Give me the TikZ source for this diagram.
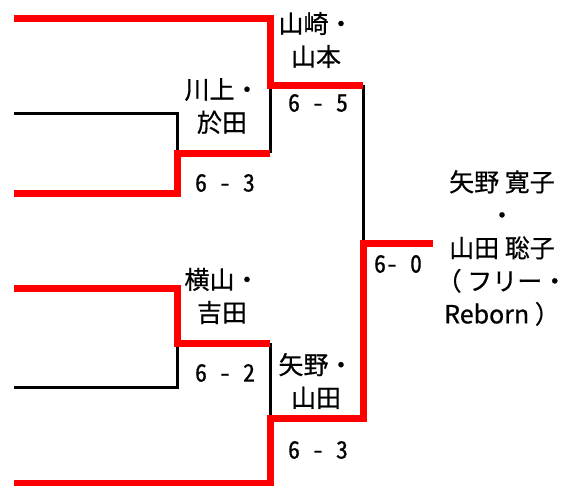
\documentclass[tikz,border=0pt]{standalone}
\usepackage{fontspec}
\setmainfont{Noto Sans CJK JP}[FakeBold=0.6]
\usetikzlibrary{calc}

\begin{document}
\begin{tikzpicture}[x=1pt,y=-1pt,
  win/.style={draw=red,line width=7pt},
  lose/.style={draw=black,line width=3pt},
  pair/.style={align=center,inner sep=0pt,font=\fontsize{25}{33}\selectfont},
  score/.style={inner sep=0pt,font=\fontsize{24}{26}\selectfont\addfontfeatures{RawFeature=+hwid}}]
  \useasboundingbox (0,0) rectangle (573,485);

  % entry lines
  \coordinate (A1) at (14,18);
  \coordinate (A2) at (14,113);
  \coordinate (A3) at (14,193);
  \coordinate (A4) at (14,288);
  \coordinate (A5) at (14,387);
  \coordinate (A6) at (14,483);

  % first round joins
  \coordinate (B2) at (177,113);
  \coordinate (B3) at (177,193);
  \coordinate (B23) at (177,153);
  \coordinate (B4) at (177,288);
  \coordinate (B5) at (177,387);
  \coordinate (B45) at (177,343);

  % semi finals
  \coordinate (C1) at (270,18);
  \coordinate (C1d) at (270,85);
  \coordinate (C23) at (270,153);
  \coordinate (C45) at (270,343);
  \coordinate (C6u) at (270,418);
  \coordinate (C6) at (270,483);

  % final
  \coordinate (D1) at (363,85);
  \coordinate (D2) at (363,418);
  \coordinate (D) at (363,243);
  \coordinate (W) at (433,243);

  \draw[lose] (A2) -- (B2) -- (B23);
  \draw[lose] (A5) -- (B5) -- (B45);
  \draw[lose] (C23) -- (C1d);
  \draw[lose] (C45) -- (C6u);
  \draw[lose] (D1) -- (D);

  \draw[win] (A1) -- (C1) -- (C1d) -- (D1);
  \draw[win] (A3) -- (B3) -- (B23) -- (C23);
  \draw[win] (A4) -- (B4) -- (B45) -- (C45);
  \draw[win] (A6) -- (C6) -- (C6u) -- (D2) -- (D) -- (W);

  \node[pair] (yamazaki) at (316,40) {山崎・\\山本};
  \node[pair] (kawakami) at (222,106) {川上・\\於田};
  \node[pair] (yokoyama) at (222,296) {横山・\\吉田};
  \node[pair] (yano) at (316,381) {矢野・\\山田};
  \node[pair] (champion) at (502,248) {矢野 寛子\\・\\山田 聡子\\（ フリー・\\Reborn ）};

  \node[score] (s1) at (225,183) {6 - 3};
  \node[score] (s2) at (225,373) {6 - 2};
  \node[score] (s3) at (318,103) {6 - 5};
  \node[score] (s4) at (318,450) {6 - 3};
  \node[score] (s5) at (398,264) {6- 0};
\end{tikzpicture}
\end{document}
